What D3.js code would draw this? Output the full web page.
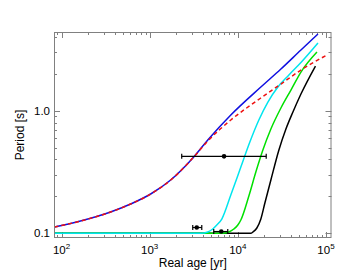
<!DOCTYPE html>
<html><head><meta charset="utf-8">
<script src="https://cdn.jsdelivr.net/npm/d3@7"></script>
<style>body{margin:0;background:#fff}svg{display:block}text{font-family:"Liberation Sans",Arial,sans-serif}</style>
</head><body><svg id="c" width="338" height="271"></svg>
<script>
// ages in yr, periods in s
const blueAge = [83.3,164,360,608,1027,1732,3162,4562,8326,18250,30810,51990,81130];
const blueP   = [0.1125,0.1259,0.1491,0.1733,0.2091,0.2719,0.4185,0.576,0.9208,1.557,2.183,3.118,4.211];
const redAge  = [83.3,164,360,608,1027,1732,3162,4562,8326,18250,30810,51990,102700];
const redP    = [0.1125,0.1259,0.1491,0.1733,0.2091,0.2719,0.4185,0.5652,0.8384,1.267,1.647,2.142,2.84];
const cyanAge = [83.3,3797,4562,5198,5773,6580,8326,10820,13690,17320,21930,28480,37970,51990,81130];
const cyanP   = [0.1,0.1,0.1025,0.1084,0.1168,0.1308,0.2051,0.3469,0.5546,0.8384,1.175,1.557,1.95,2.466,3.556];
const greenAge= [83.3,6752,7901,9005,10000,10820,13340,16010,19240,23710,30810,40030,51990,79010];
const greenP  = [0.1,0.1,0.1025,0.1084,0.1168,0.1284,0.2014,0.3159,0.4774,0.7079,1.05,1.472,2.063,3.003];
const blackAge= [83.3,14050,14810,16440,18250,20270,23710,29240,35120,42170,51990,75980];
const blackP  = [0.1,0.1,0.1025,0.1105,0.1308,0.1765,0.2719,0.4774,0.7079,0.9741,1.366,2.309];
// error bars: [age, ageLow, ageHigh, period]
const barAge  = [6980, 3420, 6490];
const barLo   = [2310, 3080, 5330];
const barHi   = [20990, 3900, 7690];
const barP    = [0.424, 0.1115, 0.1034];
const xMajor  = [100, 1000, 10000, 100000];
const xExp    = ["2","3","4","5"];
const yMajor  = [0.1, 1.0];
const yLabels = ["0.1","1.0"];

const svg = d3.select("#c");
const L = 54, R = 331.5, T = 32, B = 238;
const x = d3.scaleLog().domain([82.2, 115500]).range([L, R]);
const y = d3.scaleLog().domain([0.0916, 4.372]).range([B, T]);
const axisCol = "#808080";

const xMinor = [];
for (let d = 10; d <= 100000; d *= 10) for (let k = 2; k <= 9; k++) { const v = d*k; if (v >= 82.2 && v <= 115500) xMinor.push(v); }
const yMinor = [];
for (let d = 0.01; d <= 10; d *= 10) for (let k = 2; k <= 9; k++) { const v = +(d*k).toPrecision(6); if (v >= 0.0916 && v <= 4.372) yMinor.push(v); }

const tk = svg.append("g").attr("stroke", axisCol).attr("stroke-width", 1);
function xt(v, len) {
  const px = Math.round(x(v)) + 0.5;
  tk.append("line").attr("x1", px).attr("x2", px).attr("y1", B).attr("y2", B - len);
  tk.append("line").attr("x1", px).attr("x2", px).attr("y1", T).attr("y2", T + len);
}
function yt(v, len) {
  const py = Math.round(y(v)) + 0.5;
  tk.append("line").attr("x1", L).attr("x2", L + len).attr("y1", py).attr("y2", py);
  tk.append("line").attr("x1", R).attr("x2", R - len).attr("y1", py).attr("y2", py);
}
xMinor.forEach(v => xt(v, 3));
xMajor.forEach(v => xt(v, 6));
yMinor.forEach(v => yt(v, 3));
yMajor.forEach(v => yt(v, 6));

const line = d3.line().x(d => x(d[0])).y(d => y(d[1])).curve(d3.curveMonotoneX);
const zip = (a, b) => a.map((v, i) => [v, b[i]]);
svg.append("clipPath").attr("id", "cp").append("rect").attr("x", L).attr("y", T).attr("width", R - L).attr("height", B - T);
const pl = svg.append("g").attr("clip-path", "url(#cp)").attr("fill", "none").attr("stroke-width", 1.5);
pl.append("path").attr("d", line(zip(blackAge, blackP))).attr("stroke", "#000");
pl.append("path").attr("d", line(zip(greenAge, greenP))).attr("stroke", "#00e000");
pl.append("path").attr("d", line(zip(cyanAge, cyanP))).attr("stroke", "#00e5ee");
pl.append("path").attr("d", line(zip(blueAge, blueP))).attr("stroke", "#1010e0");
pl.append("path").attr("d", line(zip(redAge, redP))).attr("stroke", "#ee1010").attr("stroke-dasharray", "4,3");

const eb = svg.append("g").attr("stroke", "#000").attr("stroke-width", 1.2);
barAge.forEach((a, i) => {
  const py = y(barP[i]);
  eb.append("line").attr("x1", x(barLo[i])).attr("x2", x(barHi[i])).attr("y1", py).attr("y2", py);
  [barLo[i], barHi[i]].forEach(v => eb.append("line").attr("x1", x(v)).attr("x2", x(v)).attr("y1", py - 2.5).attr("y2", py + 2.5));
  svg.append("circle").attr("cx", x(a)).attr("cy", py).attr("r", 2.3).attr("fill", "#000");
});

svg.append("rect").attr("x", L + 0.5).attr("y", T + 0.5).attr("width", R - L - 1).attr("height", B - T - 1)
  .attr("fill", "none").attr("stroke", axisCol).attr("stroke-width", 1);

xMajor.forEach((v, i) => {
  const t = svg.append("text").attr("x", x(v)).attr("y", 253.5).attr("text-anchor", "middle").attr("font-size", 11.5).attr("fill", "#000");
  t.append("tspan").text("10");
  t.append("tspan").attr("dy", -5).attr("font-size", 8).text(xExp[i]);
});
yMajor.forEach((v, i) => {
  svg.append("text").attr("x", 50).attr("y", y(v) + 4).attr("text-anchor", "end").attr("font-size", 11.5).attr("fill", "#000").text(yLabels[i]);
});
svg.append("text").attr("x", (L + R) / 2).attr("y", 267).attr("text-anchor", "middle").attr("font-size", 12).attr("fill", "#000").text("Real age [yr]");
svg.append("text").attr("transform", `translate(24,${(T + B) / 2}) rotate(-90)`).attr("text-anchor", "middle").attr("font-size", 12).attr("fill", "#000").text("Period [s]");
</script></body></html>
